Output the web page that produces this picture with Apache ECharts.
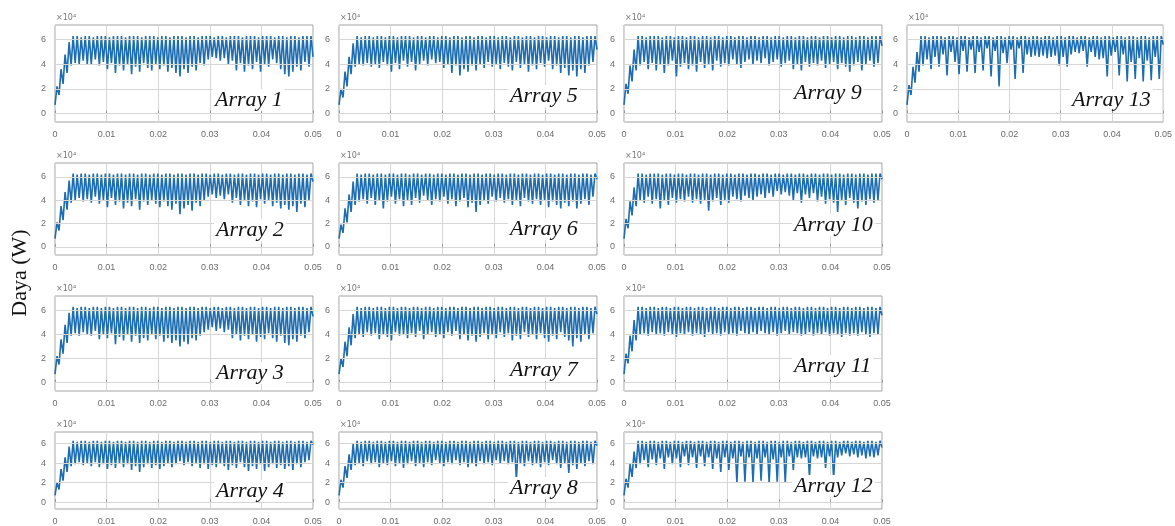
<!DOCTYPE html>
<html>
<head>
<meta charset="utf-8">
<title>Daya (W)</title>
<script src="https://cdn.jsdelivr.net/npm/echarts@6/dist/echarts.min.js"></script>
<style>
  html, body { margin: 0; padding: 0; background: #fff; }
  #main { width: 1175px; height: 526px; }
</style>
</head>
<body>
<div id="main"></div>
<script>
// waktu (s) dan tick
const tMax = 0.05;
const yTicks = [0, 2, 4, 6];  // x 10^4 W

// daya tiap array (x 10^4 W): titik awal lalu pasangan puncak / lembah
const array1 = [0.7,
  2.2,1.5, 3.6,2.4, 4.8,3.3, 5.8,3.9, 6.3,4.1, 6.3,4.0, 6.2,4.3, 6.3,4.0,
  6.3,4.0, 6.2,4.4, 6.3,3.9, 6.3,4.2, 6.3,3.6, 6.2,4.1, 6.3,3.3, 6.3,3.9,
  6.3,3.5, 6.2,4.0, 6.3,3.2, 6.3,3.8, 6.3,3.4, 6.2,4.1, 6.3,3.7, 6.3,3.5,
  6.3,4.0, 6.2,3.6, 6.3,3.9, 6.3,3.4, 6.2,3.7, 6.3,3.3, 6.3,3.0, 6.3,3.6,
  6.2,3.3, 6.3,3.8, 6.3,3.5, 6.2,4.1, 6.3,3.9, 6.3,4.4, 6.3,4.6, 6.2,4.5,
  6.3,4.3, 6.3,4.5, 6.2,4.0, 6.3,4.3, 6.3,3.5, 6.3,4.1, 6.2,3.4, 6.3,3.9,
  6.3,3.6, 6.3,4.2, 6.2,3.4, 6.3,4.0, 6.3,3.8, 6.3,4.4, 6.2,4.1, 6.3,3.6,
  6.3,3.2, 6.2,3.0, 6.3,3.4, 6.3,3.8, 6.2,3.5, 6.3,4.2, 6.3,3.8, 6.3,4.6];

const array2 = [0.7,
  2.1,1.4, 3.5,2.3, 4.7,3.2, 5.7,3.8, 6.3,4.0, 6.2,4.2, 6.3,3.9, 6.3,4.1,
  6.2,3.8, 6.3,4.3, 6.3,3.7, 6.2,4.0, 6.3,3.4, 6.3,4.2, 6.2,3.6, 6.3,3.9,
  6.3,3.3, 6.2,3.8, 6.3,3.5, 6.3,4.1, 6.2,3.2, 6.3,3.9, 6.3,3.6, 6.2,4.0,
  6.3,3.7, 6.3,3.4, 6.2,3.9, 6.3,3.5, 6.3,3.2, 6.2,3.7, 6.3,2.8, 6.3,3.3,
  6.2,3.6, 6.3,3.1, 6.3,3.8, 6.2,3.5, 6.3,4.0, 6.3,4.3, 6.2,4.5, 6.3,4.2,
  6.3,4.4, 6.2,4.1, 6.3,4.5, 6.3,3.8, 6.2,4.2, 6.3,3.6, 6.3,4.0, 6.2,3.5,
  6.3,3.9, 6.3,3.4, 6.2,4.1, 6.3,3.7, 6.3,4.0, 6.2,3.5, 6.3,3.8, 6.3,3.3,
  6.2,3.6, 6.3,3.2, 6.3,3.5, 6.2,3.0, 6.3,3.7, 6.3,3.4, 6.2,4.0, 6.3,5.6];

const array3 = [0.7,
  2.2,1.5, 3.6,2.4, 4.8,3.3, 5.8,3.9, 6.3,4.1, 6.2,3.9, 6.3,4.2, 6.3,4.0,
  6.2,3.9, 6.3,4.3, 6.3,3.6, 6.2,4.0, 6.3,3.7, 6.3,4.1, 6.2,3.2, 6.3,3.8,
  6.3,3.5, 6.2,4.0, 6.3,3.4, 6.3,3.9, 6.2,3.3, 6.3,3.7, 6.3,3.5, 6.2,4.0,
  6.3,3.6, 6.3,3.9, 6.2,3.4, 6.3,3.7, 6.3,3.3, 6.2,3.5, 6.3,3.0, 6.3,3.4,
  6.2,3.2, 6.3,3.7, 6.3,3.5, 6.2,3.9, 6.3,4.2, 6.3,4.4, 6.2,4.6, 6.3,4.3,
  6.3,4.5, 6.2,4.2, 6.3,4.4, 6.3,3.7, 6.2,4.0, 6.3,3.5, 6.3,3.9, 6.2,3.6,
  6.3,4.0, 6.3,3.4, 6.2,3.8, 6.3,3.6, 6.3,4.1, 6.2,3.7, 6.3,3.4, 6.3,3.9,
  6.2,3.3, 6.3,3.1, 6.3,3.6, 6.2,3.4, 6.3,3.9, 6.3,3.7, 6.2,4.2, 6.3,5.5];

const array4 = [0.7,
  2.0,1.3, 3.4,2.2, 4.6,3.1, 5.7,3.7, 6.3,3.9, 6.2,4.1, 6.3,3.8, 6.3,4.0,
  6.2,3.7, 6.3,4.1, 6.3,3.6, 6.2,3.9, 6.3,3.4, 6.3,3.8, 6.2,3.5, 6.3,4.0,
  6.3,3.6, 6.2,3.9, 6.3,3.3, 6.3,3.7, 6.2,3.1, 6.3,3.6, 6.3,3.9, 6.2,3.5,
  6.3,3.8, 6.3,3.4, 6.2,3.7, 6.3,4.0, 6.3,3.6, 6.2,3.9, 6.3,4.2, 6.3,3.8,
  6.2,4.1, 6.3,3.7, 6.3,4.0, 6.2,3.5, 6.3,3.9, 6.3,3.4, 6.2,3.8, 6.3,3.6,
  6.3,4.0, 6.2,3.7, 6.3,3.3, 6.3,3.8, 6.2,3.5, 6.3,4.1, 6.3,3.6, 6.2,3.2,
  6.3,3.7, 6.3,3.4, 6.2,3.9, 6.3,3.2, 6.3,3.6, 6.2,3.9, 6.3,3.5, 6.3,3.8,
  6.2,3.4, 6.3,3.7, 6.3,3.3, 6.2,3.9, 6.3,3.6, 6.3,4.1, 6.2,4.3, 6.3,5.9];

const array5 = [0.7,
  2.0,1.3, 3.4,2.2, 4.6,3.2, 5.7,3.8, 6.3,4.0, 6.2,3.9, 6.3,4.1, 6.3,3.8,
  6.2,4.0, 6.3,3.7, 6.3,4.2, 6.2,3.9, 6.3,3.4, 6.3,4.1, 6.2,3.6, 6.3,4.3,
  6.3,3.8, 6.3,4.2, 6.2,3.5, 6.3,4.0, 6.3,4.3, 6.2,3.9, 6.3,4.4, 6.3,4.1,
  6.2,4.2, 6.3,3.7, 6.3,4.0, 6.2,3.3, 6.3,3.9, 6.3,3.1, 6.2,3.6, 6.3,3.4,
  6.3,3.9, 6.2,3.5, 6.3,4.0, 6.3,3.7, 6.2,4.2, 6.3,3.8, 6.3,4.0, 6.2,3.6,
  6.3,4.1, 6.3,3.8, 6.2,3.5, 6.3,4.2, 6.3,3.7, 6.2,4.0, 6.3,3.4, 6.3,3.9,
  6.2,3.6, 6.3,4.1, 6.3,3.8, 6.2,4.3, 6.3,3.6, 6.3,3.9, 6.2,3.3, 6.3,3.7,
  6.3,3.1, 6.2,3.5, 6.3,3.0, 6.3,3.6, 6.2,3.3, 6.3,3.9, 6.3,4.2, 6.3,5.2];

const array6 = [0.7,
  1.9,1.2, 3.3,2.1, 4.5,3.0, 5.6,3.6, 6.3,3.9, 6.2,4.1, 6.3,3.7, 6.3,4.2,
  6.2,3.6, 6.3,4.0, 6.3,3.3, 6.2,3.9, 6.3,4.3, 6.3,3.7, 6.2,4.1, 6.3,3.5,
  6.3,4.0, 6.2,3.6, 6.3,4.2, 6.3,3.8, 6.2,4.4, 6.3,4.0, 6.3,3.6, 6.2,4.1,
  6.3,3.9, 6.3,4.3, 6.2,3.7, 6.3,4.1, 6.3,3.5, 6.2,3.9, 6.3,4.2, 6.3,3.4,
  6.2,3.8, 6.3,3.0, 6.3,3.6, 6.2,4.0, 6.3,3.7, 6.3,4.3, 6.2,3.9, 6.3,4.2,
  6.3,3.8, 6.2,4.1, 6.3,3.6, 6.3,4.0, 6.2,3.5, 6.3,4.2, 6.3,3.9, 6.2,3.7,
  6.3,4.1, 6.3,3.6, 6.2,4.0, 6.3,3.4, 6.3,3.9, 6.2,3.6, 6.3,3.3, 6.3,3.8,
  6.2,3.5, 6.3,3.9, 6.3,3.3, 6.2,3.7, 6.3,4.1, 6.3,3.6, 6.2,4.3, 6.3,5.8];

const array7 = [0.7,
  2.0,1.3, 3.4,2.2, 4.6,3.1, 5.7,3.7, 6.3,4.0, 6.2,3.8, 6.3,4.2, 6.3,3.9,
  6.2,4.1, 6.3,3.6, 6.3,4.0, 6.2,3.8, 6.3,3.5, 6.3,4.2, 6.2,3.9, 6.3,4.0,
  6.3,3.7, 6.2,4.1, 6.3,3.8, 6.3,4.3, 6.2,3.6, 6.3,4.0, 6.3,4.2, 6.2,3.8,
  6.3,4.0, 6.3,3.7, 6.2,4.2, 6.3,3.9, 6.3,4.3, 6.2,3.6, 6.3,4.0, 6.3,3.5,
  6.2,3.9, 6.3,3.4, 6.3,3.8, 6.2,4.1, 6.3,3.6, 6.3,4.0, 6.2,3.7, 6.3,4.2,
  6.3,3.8, 6.2,4.1, 6.3,3.5, 6.3,3.9, 6.2,3.6, 6.3,4.2, 6.3,3.8, 6.2,4.0,
  6.3,3.6, 6.3,4.1, 6.2,3.7, 6.3,3.4, 6.3,3.9, 6.2,3.6, 6.3,4.2, 6.3,3.8,
  6.2,3.5, 6.3,3.0, 6.3,3.7, 6.2,3.4, 6.3,4.0, 6.3,3.6, 6.2,4.1, 6.3,5.7];

const array8 = [0.7,
  2.3,1.5, 3.7,2.5, 4.9,3.3, 6.0,3.8, 6.3,4.0, 6.2,3.7, 6.3,4.2, 6.3,3.9,
  6.2,4.1, 6.3,3.6, 6.3,4.0, 6.2,3.8, 6.3,4.2, 6.3,3.7, 6.2,4.0, 6.3,3.5,
  6.3,3.9, 6.2,4.2, 6.3,3.7, 6.3,4.0, 6.2,3.6, 6.3,4.1, 6.3,3.8, 6.2,4.3,
  6.3,4.0, 6.3,3.7, 6.2,4.1, 6.3,3.9, 6.3,4.3, 6.2,3.8, 6.3,4.1, 6.3,3.6,
  6.2,4.0, 6.3,3.7, 6.3,4.2, 6.2,3.9, 6.3,4.1, 6.3,3.8, 6.2,4.3, 6.3,4.0,
  6.3,4.2, 6.2,3.9, 6.3,4.1, 6.3,2.3, 6.2,4.0, 6.3,3.7, 6.3,4.2, 6.2,3.8,
  6.3,4.0, 6.3,3.6, 6.2,4.1, 6.3,3.8, 6.3,4.3, 6.2,3.9, 6.3,3.5, 6.3,4.0,
  6.2,3.0, 6.3,3.8, 6.3,3.4, 6.2,4.0, 6.3,3.7, 6.3,4.2, 6.2,3.9, 6.3,5.8];

const array9 = [0.7,
  2.4,1.6, 3.9,2.6, 5.2,3.5, 6.3,3.9, 6.3,4.2, 6.2,3.6, 6.3,4.1, 6.3,3.5,
  6.3,4.0, 6.2,3.3, 6.3,3.9, 6.3,4.3, 6.2,3.0, 6.3,3.8, 6.3,4.1, 6.2,3.6,
  6.3,3.9, 6.3,3.4, 6.2,4.2, 6.3,3.7, 6.3,4.0, 6.2,3.5, 6.3,4.3, 6.3,3.8,
  6.2,4.1, 6.3,3.9, 6.3,4.4, 6.2,4.0, 6.3,3.7, 6.3,4.2, 6.2,4.4, 6.3,4.0,
  6.3,4.3, 6.2,4.1, 6.3,4.5, 6.3,3.9, 6.2,4.2, 6.3,4.4, 6.3,3.8, 6.2,4.1,
  6.3,4.3, 6.3,3.6, 6.2,4.0, 6.3,3.5, 6.3,4.2, 6.2,3.8, 6.3,4.1, 6.3,3.9,
  6.2,4.3, 6.3,3.7, 6.3,4.0, 6.2,4.2, 6.3,3.6, 6.3,4.1, 6.2,3.8, 6.3,3.4,
  6.3,3.9, 6.2,4.2, 6.3,3.5, 6.3,4.0, 6.2,4.3, 6.3,3.8, 6.3,4.1, 6.3,5.5];

const array10 = [0.7,
  2.4,1.6, 3.9,2.7, 5.1,3.5, 6.3,4.0, 6.3,3.8, 6.2,4.3, 6.3,3.7, 6.3,4.1,
  6.3,3.3, 6.2,4.0, 6.3,3.6, 6.3,4.2, 6.2,3.8, 6.3,4.1, 6.3,3.9, 6.2,4.3,
  6.3,3.8, 6.3,4.1, 6.2,3.7, 6.3,4.0, 6.3,3.1, 6.2,3.9, 6.3,4.2, 6.3,3.6,
  6.2,4.0, 6.3,3.8, 6.3,4.3, 6.2,4.1, 6.3,3.9, 6.3,4.4, 6.2,4.2, 6.3,4.0,
  6.3,4.3, 6.2,4.5, 6.3,4.2, 6.3,4.6, 6.2,4.3, 6.3,4.8, 6.3,4.5, 6.2,4.7,
  6.3,4.4, 6.3,4.0, 6.2,4.6, 6.3,3.8, 6.3,4.5, 6.2,4.2, 6.3,4.6, 6.3,3.9,
  6.2,4.3, 6.3,3.7, 6.3,4.1, 6.2,3.8, 6.3,3.0, 6.3,4.0, 6.2,3.6, 6.3,4.2,
  6.3,3.8, 6.2,3.3, 6.3,3.9, 6.3,3.6, 6.2,4.1, 6.3,3.8, 6.3,4.0, 6.3,5.8];

const array11 = [0.7,
  2.4,1.6, 3.9,2.6, 5.2,3.5, 6.3,4.0, 6.3,4.1, 6.2,3.9, 6.3,4.2, 6.3,4.0,
  6.2,4.1, 6.3,3.9, 6.3,4.2, 6.2,4.0, 6.3,3.8, 6.3,4.1, 6.2,4.0, 6.3,4.2,
  6.3,3.9, 6.2,4.1, 6.3,4.0, 6.3,3.8, 6.2,4.2, 6.3,4.0, 6.3,4.1, 6.2,3.9,
  6.3,4.2, 6.3,4.0, 6.2,4.1, 6.3,3.9, 6.3,4.3, 6.2,4.1, 6.3,4.0, 6.3,4.2,
  6.2,4.0, 6.3,4.3, 6.3,4.1, 6.2,4.0, 6.3,4.2, 6.3,3.9, 6.2,4.1, 6.3,4.3,
  6.3,4.0, 6.2,4.2, 6.3,4.1, 6.3,3.9, 6.2,4.0, 6.3,4.2, 6.3,3.9, 6.2,4.1,
  6.3,4.0, 6.3,4.2, 6.2,3.9, 6.3,4.1, 6.3,4.0, 6.2,3.8, 6.3,4.1, 6.3,3.9,
  6.2,4.1, 6.3,3.9, 6.3,4.2, 6.2,4.0, 6.3,3.8, 6.3,4.1, 6.2,4.0, 6.3,5.6];

const array12 = [0.7,
  2.4,1.5, 3.9,2.6, 5.2,3.5, 6.3,3.9, 6.3,4.3, 6.2,3.6, 6.3,4.4, 6.3,3.8,
  6.2,4.5, 6.3,3.4, 6.3,4.6, 6.2,3.9, 6.3,4.5, 6.3,3.6, 6.2,4.7, 6.3,3.8,
  6.3,4.6, 6.2,3.5, 6.3,4.7, 6.3,3.7, 6.2,4.6, 6.3,3.4, 6.3,4.5, 6.2,3.1,
  6.3,4.6, 6.3,3.3, 6.2,4.5, 6.3,2.0, 6.3,4.7, 6.2,2.1, 6.3,4.6, 6.3,2.0,
  6.2,4.5, 6.3,2.2, 6.3,4.6, 6.2,2.0, 6.3,4.4, 6.3,2.1, 6.2,4.6, 6.3,2.0,
  6.3,4.7, 6.2,3.3, 6.3,4.6, 6.3,4.5, 6.2,4.6, 6.3,2.6, 6.3,4.7, 6.2,4.5,
  6.3,4.6, 6.3,3.5, 6.2,4.7, 6.3,2.4, 6.3,4.6, 6.2,4.8, 6.3,5.0, 6.3,4.7,
  6.2,4.9, 6.3,4.6, 6.3,4.8, 6.2,4.5, 6.3,4.7, 6.3,4.6, 6.2,4.8, 6.3,5.6];

const array13 = [0.7,
  2.3,1.5, 3.8,2.5, 5.0,3.4, 6.3,3.9, 6.3,4.4, 6.2,3.6, 6.3,4.6, 6.3,3.8,
  6.3,4.8, 6.2,3.1, 6.3,5.0, 6.3,4.2, 6.2,3.2, 6.3,5.1, 6.3,3.4, 6.2,5.2,
  6.3,3.3, 6.3,5.0, 6.2,3.5, 6.3,5.3, 6.3,3.0, 6.2,5.1, 6.3,2.2, 6.3,4.9,
  6.2,4.1, 6.3,5.2, 6.3,2.8, 6.2,5.3, 6.3,3.3, 6.3,4.8, 6.2,4.6, 6.3,4.7,
  6.3,4.6, 6.2,4.7, 6.3,4.5, 6.3,4.6, 6.2,4.7, 6.3,3.9, 6.3,4.6, 6.2,3.8,
  6.3,4.8, 6.3,5.0, 6.2,4.9, 6.3,5.1, 6.3,3.8, 6.2,5.0, 6.3,4.6, 6.3,4.4,
  6.2,4.5, 6.3,3.0, 6.3,4.7, 6.2,5.0, 6.3,3.1, 6.3,4.8, 6.2,2.6, 6.3,4.2,
  6.3,2.8, 6.2,4.5, 6.3,2.6, 6.3,4.3, 6.2,2.7, 6.3,4.6, 6.3,2.8, 6.3,5.6];

// tata letak panel (px)
const colLeft = [55, 339, 624, 907];
const rowTop = [25, 163, 296, 432];
const rowHeight = [97, 92, 95, 80];
const plotWidth = 258;

const panels = [
  { name: 'Array 1', data: array1, row: 0, col: 0, label: [213, 100] },
  { name: 'Array 5', data: array5, row: 0, col: 1, label: [508, 96] },
  { name: 'Array 9', data: array9, row: 0, col: 2, label: [792, 93] },
  { name: 'Array 13', data: array13, row: 0, col: 3, label: [1070, 100] },
  { name: 'Array 2', data: array2, row: 1, col: 0, label: [214, 230] },
  { name: 'Array 6', data: array6, row: 1, col: 1, label: [508, 229] },
  { name: 'Array 10', data: array10, row: 1, col: 2, label: [792, 225] },
  { name: 'Array 3', data: array3, row: 2, col: 0, label: [214, 373] },
  { name: 'Array 7', data: array7, row: 2, col: 1, label: [508, 370] },
  { name: 'Array 11', data: array11, row: 2, col: 2, label: [792, 366] },
  { name: 'Array 4', data: array4, row: 3, col: 0, label: [214, 491] },
  { name: 'Array 8', data: array8, row: 3, col: 1, label: [508, 488] },
  { name: 'Array 12', data: array12, row: 3, col: 2, label: [792, 486] }
];

const myChart = echarts.init(document.getElementById('main'));
const grid = [], xAxis = [], yAxis = [], series = [], graphic = [];

panels.forEach((p, i) => {
  const left = colLeft[p.col], top = rowTop[p.row], h = rowHeight[p.row];
  grid.push({
    left: left, top: top, width: plotWidth, height: h,
    show: true, borderColor: '#a3a3a3', borderWidth: 1
  });
  xAxis.push({
    type: 'value', gridIndex: i, min: 0, max: tMax, interval: 0.01,
    axisLine: { show: false },
    axisTick: { show: true, inside: true, length: 3, lineStyle: { color: '#999' } },
    axisLabel: {
      color: '#6b6b6b', fontSize: 9, margin: 8, fontFamily: 'Arial, "Liberation Sans"',
      formatter: v => String(+v.toFixed(2))
    },
    splitLine: { show: true, lineStyle: { color: '#d6d6d6', width: 1 } }
  });
  yAxis.push({
    type: 'value', gridIndex: i, min: -0.7, max: 7.2,
    axisLine: { show: false },
    axisTick: { show: true, inside: true, length: 3, customValues: yTicks, lineStyle: { color: '#999' } },
    axisLabel: { color: '#6b6b6b', fontSize: 9, margin: 9, customValues: yTicks, fontFamily: 'Arial, "Liberation Sans"' },
    splitLine: { show: false }
  });
  // garis grid horizontal
  series.push({
    type: 'line', xAxisIndex: i, yAxisIndex: i, z: 1, silent: true, data: [],
    markLine: {
      silent: true, symbol: ['none', 'none'], animation: false,
      label: { show: false },
      lineStyle: { color: '#d6d6d6', width: 1, type: 'solid' },
      data: yTicks.map(v => ({ yAxis: v }))
    }
  });
  series.push({
    name: p.name, type: 'line', xAxisIndex: i, yAxisIndex: i, z: 3,
    silent: true, symbol: 'none', showSymbol: false,
    lineStyle: { color: '#1d6db0', width: 1.6 },
    data: p.data.map((v, k) => [k * tMax / (p.data.length - 1), v])
  });
  // x10^4
  graphic.push({
    type: 'text', left: left + 1, top: top - 11, silent: true,
    style: { text: '\u00d710\u2074', fill: '#777', font: '8px "DejaVu Sans"' }
  });
  // nama array
  graphic.push({
    type: 'text', x: p.label[0], y: p.label[1], z: 10, silent: true,
    style: {
      text: p.name, fill: '#111', font: 'italic 22px "Liberation Serif"',
      align: 'left', verticalAlign: 'middle',
      backgroundColor: '#fff', padding: [0, 2]
    }
  });
});

graphic.push({
  type: 'text', x: 20, y: 273, rotation: Math.PI / 2, silent: true,
  style: {
    text: 'Daya (W)', fill: '#111', font: '22px "Liberation Serif"',
    align: 'center', verticalAlign: 'middle'
  }
});

const option = {
  animation: false,
  backgroundColor: '#fff',
  grid: grid,
  xAxis: xAxis,
  yAxis: yAxis,
  series: series,
  graphic: graphic
};
myChart.setOption(option);
</script>
</body>
</html>
